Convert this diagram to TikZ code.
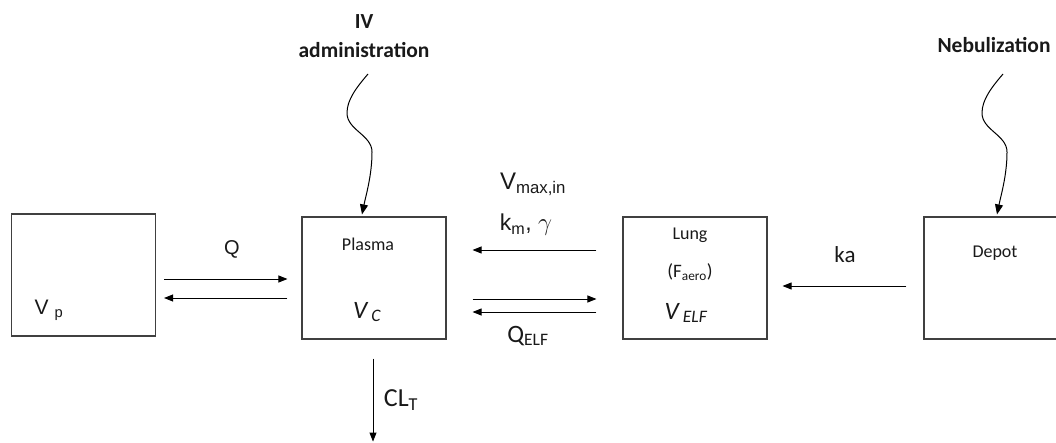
\documentclass[tikz,border=0pt]{standalone}
\usepackage{fontspec}
\setmainfont{Carlito}
\newfontfamily\arialfont{Liberation Sans}
\usetikzlibrary{positioning, arrows.meta, calc}

\begin{document}
\begin{tikzpicture}[
    x=1pt, y=-1pt,
    box/.style={draw=black!75, line width=1.1pt, minimum width=144pt, minimum height=122pt},
    arrow/.style={-{Triangle[length=9pt, width=7pt]}, line width=0.9pt},
    wave/.style={-{Triangle[length=10pt, width=8pt]}, line width=1pt},
    lbl/.style={inner sep=0pt, text=black!90}
]
\useasboundingbox (0,0) rectangle (1056,443);
\clip (0,0) rectangle (1056,443);
% compartments
\node[box] (vp) at (83.5,275) {};
\node[box] (plasma) at (374,278) {};
\node[box] (lung) at (695,278) {};
\node[box] (depot) at (996,278) {};
% texts in the compartments
\node[lbl, font=\arialfont\fontsize{21}{24}\selectfont] (vpvol) at (49,310) {V\hspace{6pt}\textsubscript{p}};
\node[lbl, font=\fontsize{18}{21}\selectfont] (plasmaname) at (368,244) {Plasma};
\node[lbl, font=\itshape\fontsize{25}{28}\selectfont] (plasmavol) at (367,312) {V\hspace{4pt}\textsubscript{C}};
\node[lbl, font=\fontsize{18}{21}\selectfont] (lungname) at (690,235) {Lung};
\node[lbl, font=\fontsize{19}{22}\selectfont] (faero) at (690,272) {(F\textsubscript{aero})};
\node[lbl, font=\itshape\fontsize{25}{28}\selectfont] (lungvol) at (686,313) {V\hspace{4pt}\textsubscript{ELF}};
\node[lbl, font=\fontsize{18}{21}\selectfont] (depotname) at (995,253) {Depot};
% dosing
\node[lbl, align=center, font=\bfseries\fontsize{21.5}{29}\selectfont] (iv) at (364,36) {IV\\administration};
\node[lbl, font=\bfseries\fontsize{21.5}{25}\selectfont] (neb) at (994,45) {Nebulization};
\coordinate (ivsrc) at (368,74);
\coordinate (nebsrc) at (1003,74);
\draw[wave] (ivsrc) .. controls (356,88) and (347,100) .. (347,113)
    .. controls (347,130) and (372,135) .. (372,152)
    .. controls (372,175) and (366,195) .. ($(plasma.north)+(-12,-2)$);
\draw[wave] (nebsrc) .. controls (991,88) and (982,100) .. (982,113)
    .. controls (982,130) and (1007,135) .. (1007,152)
    .. controls (1007,175) and (1001,195) .. ($(depot.north)+(1,-2)$);
% transfers
\draw[arrow] ($(vp.east)+(8,4)$) -- ($(plasma.west)+(-14,1)$);
\draw[arrow] ($(plasma.west)+(-14,20)$) -- ($(vp.east)+(8,23)$);
\draw[arrow] ($(lung.west)+(-26,-28)$) -- ($(plasma.east)+(26,-28)$);
\draw[arrow] ($(plasma.east)+(26,21)$) -- ($(lung.west)+(-26,21)$);
\draw[arrow] ($(lung.west)+(-26,34)$) -- ($(plasma.east)+(26,34)$);
\draw[arrow] ($(depot.west)+(-17,8)$) -- ($(lung.east)+(15,8)$);
\draw[arrow] ($(plasma.south)+(-1,19)$) -- ($(plasma.south)+(-1,102)$);
% rate labels
\node[lbl, font=\arialfont\fontsize{20}{24}\selectfont] (qlbl) at (232,249) {Q};
\node[lbl, font=\arialfont\fontsize{24}{28}\selectfont] (vmaxlbl) at (533,184) {V\textsubscript{max,in}};
\node[lbl, font=\arialfont\fontsize{23}{28}\selectfont] (kmlbl) at (526,225) {k\textsubscript{m}, $\gamma$};
\node[lbl, font=\fontsize{25}{28}\selectfont] (qelflbl) at (528,336) {Q\textsubscript{ELF}};
\node[lbl, font=\fontsize{23}{26}\selectfont] (kalbl) at (845,255) {ka};
\node[lbl, font=\fontsize{26}{30}\selectfont] (cllbl) at (401,400) {CL\textsubscript{T}};
\end{tikzpicture}
\end{document}
